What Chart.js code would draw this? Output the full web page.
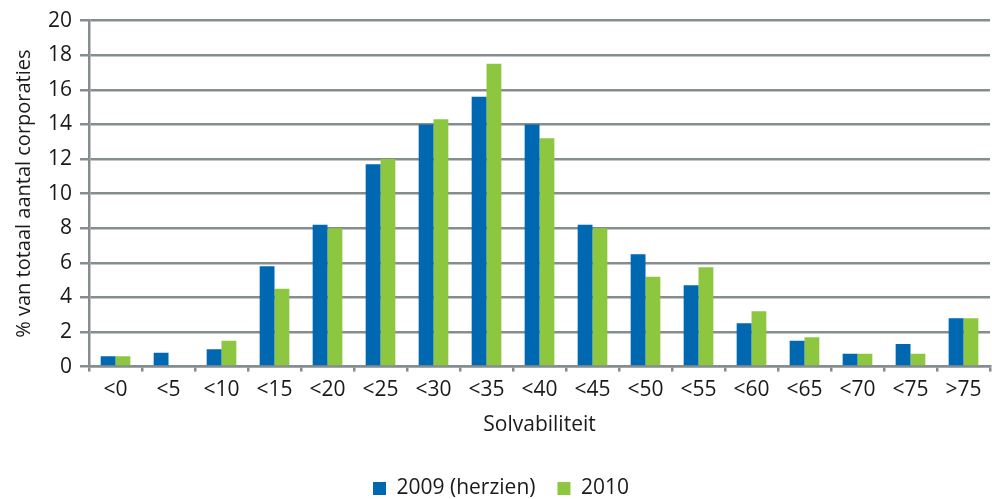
<!DOCTYPE html>
<html>
<head>
<meta charset="utf-8">
<script src="https://cdn.jsdelivr.net/npm/chart.js@4/dist/chart.umd.min.js"></script>
<style>
  html, body { margin: 0; padding: 0; background: #fff; }
  #wrap { width: 992px; height: 499px; }
</style>
</head>
<body>
<div id="wrap"><canvas id="chart" width="992" height="499"></canvas></div>
<script>
// Solvabiliteit categories and % of corporations per year
const categories = ['<0', '<5', '<10', '<15', '<20', '<25', '<30', '<35', '<40', '<45', '<50', '<55', '<60', '<65', '<70', '<75', '>75'];
const values2009 = [0.6, 0.8, 1.0, 5.8, 8.2, 11.7, 14.0, 15.6, 14.0, 8.2, 6.5, 4.7, 2.5, 1.5, 0.75, 1.3, 2.8];
const values2010 = [0.6, 0, 1.5, 4.5, 8.0, 12.0, 14.3, 17.5, 13.2, 8.0, 5.2, 5.75, 3.2, 1.7, 0.75, 0.75, 2.8];
const yTicks = [0, 2, 4, 6, 8, 10, 12, 14, 16, 18, 20];

const gridGrey = '#868d8f';
const textColor = '#1a1a1a';
const font = { family: '"Open Sans", sans-serif', size: 21 };

new Chart(document.getElementById('chart'), {
    type: 'bar',
    data: {
        labels: categories,
        datasets: [
            { label: '2009 (herzien)', data: values2009, backgroundColor: '#0067b1' },
            { label: '2010', data: values2010, backgroundColor: '#8dc63f' }
        ]
    },
    options: {
        responsive: false,
        animation: false,
        // negative bottom pushes the legend row down to where the original has it
        layout: { padding: { top: 8, right: 2, left: 12, bottom: -10 } },
        datasets: { bar: { barPercentage: 1, categoryPercentage: 0.56 } },
        plugins: {
            legend: {
                position: 'bottom',
                labels: { color: textColor, font, boxWidth: 13, boxHeight: 13, padding: 22 }
            },
            tooltip: { enabled: false }
        },
        scales: {
            x: {
                grid: { display: true, drawOnChartArea: false, color: gridGrey, lineWidth: 2.5, tickLength: 5 },
                border: { color: gridGrey, width: 2.5 },
                ticks: { color: textColor, font, padding: 6, maxRotation: 0 },
                title: { display: true, text: 'Solvabiliteit', color: textColor, font, padding: { top: 4, bottom: 18 } }
            },
            y: {
                min: 0,
                max: 20,
                afterBuildTicks: axis => { axis.ticks = yTicks.map(v => ({ value: v })); },
                grid: { color: gridGrey, lineWidth: 2.5, tickLength: 9 },
                border: { color: gridGrey, width: 2.5 },
                ticks: { color: textColor, font, padding: 8 },
                title: { display: true, text: '% van totaal aantal corporaties', color: textColor, font: { ...font, size: 20 }, padding: { top: 0, bottom: 4 } }
            }
        }
    }
});
</script>
</body>
</html>
